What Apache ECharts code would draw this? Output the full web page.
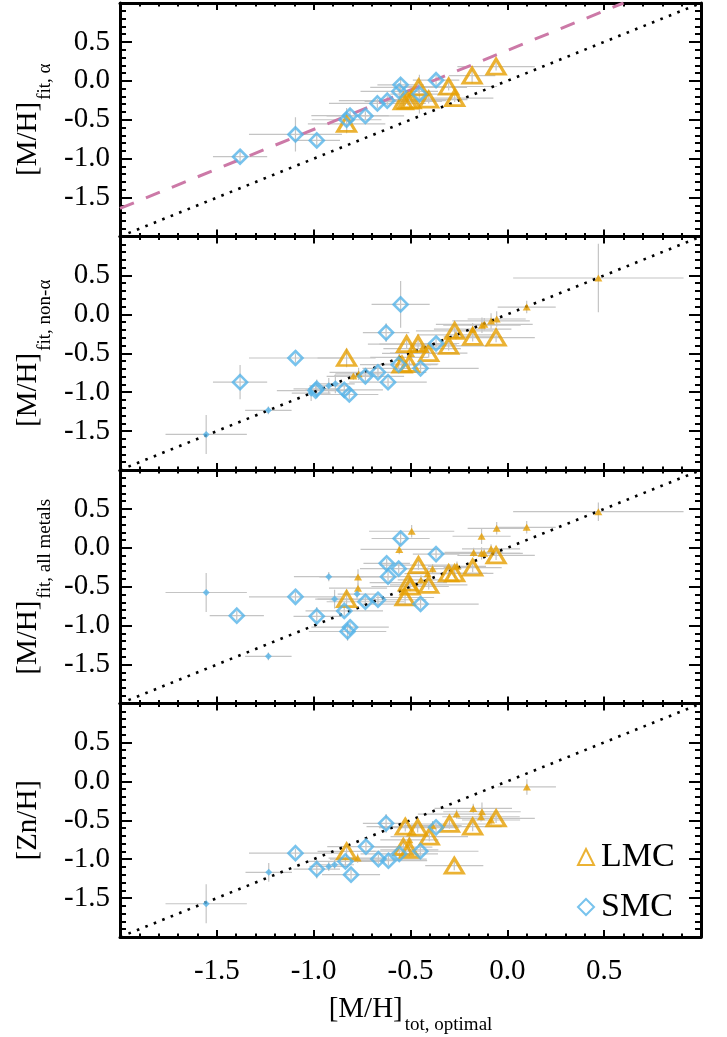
<!DOCTYPE html>
<html><head><meta charset="utf-8">
<script src="https://cdn.jsdelivr.net/npm/echarts@6/dist/echarts.min.js"></script>
<style>html,body{margin:0;padding:0;background:#fff}#c{width:727px;height:1037px}</style>
</head><body><div id="c"></div>
<script>
// ---------- tick labels, titles ----------
const xTickLabels = ['-1.5', '-1.0', '-0.5', '0.0', '0.5'];
const yTickLabels = ['-1.5', '-1.0', '-0.5', '0.0', '0.5'];
const axisMin = -2, axisMax = 1, tickStep = 0.5;
const yTitleMains = ['[M/H]', '[M/H]', '[M/H]', '[Zn/H]'];
const yTitleSubs = ['fit, α', 'fit, non-α', 'fit, all metals', ''];
const xTitleMain = '[M/H]', xTitleSub = 'tot, optimal';
const legendNames = ['LMC', 'SMC'];

// ---------- reference lines ----------
const oneToOne = [[-2, -2], [1, 1]];
const alphaFit = [[-2, -1.64], [0.6, 1.0]];

// ---------- data: [x, y, xerr, yerr] ----------
const p1_smc = [[-1.38,-0.975,0.14,0.08],[-1.094,-0.689,0.24,0.22],[-0.984,-0.765,0.12,0.07],[-0.83,-0.50,0.18,0.15],[-0.812,-0.446,0.2,0.08],[-0.733,-0.451,0.2,0.06],[-0.671,-0.290,0.25,0.06],[-0.620,-0.255,0.25,0.06],[-0.558,-0.136,0.2,0.08],[-0.551,-0.051,0.12,0.08],[-0.454,-0.171,0.15,0.25],[-0.368,0.008,0.12,0.06]];
const p1_lmc = [[-0.830,-0.553,0.2,0.12],[-0.537,-0.264,0.2,0.06],[-0.515,-0.255,0.2,0.06],[-0.497,-0.25,0.15,0.05],[-0.458,-0.085,0.25,0.07],[-0.406,-0.242,0.2,0.05],[-0.303,-0.073,0.25,0.05],[-0.272,-0.222,0.2,0.05],[-0.182,0.068,0.12,0.1],[-0.058,0.182,0.2,0.05]];
const p1_smcSmall = [];
const p1_lmcSmall = [];

const p2_smc = [[-1.380,-0.872,0.14,0.22],[-1.094,-0.561,0.24,0.06],[-0.984,-0.957,0.12,0.12],[-0.99,-0.98,0.2,0.06],[-0.842,-0.970,0.2,0.06],[-0.816,-1.03,0.15,0.06],[-0.733,-0.796,0.2,0.06],[-0.668,-0.745,0.25,0.06],[-0.616,-0.872,0.2,0.06],[-0.626,-0.234,0.12,0.12],[-0.551,0.127,0.15,0.3],[-0.561,-0.647,0.2,0.06],[-0.448,-0.694,0.3,0.06],[-0.368,-0.375,0.12,0.06]];
const p2_lmc = [[-0.830,-0.561,0.15,0.12],[-0.520,-0.383,0.2,0.06],[-0.461,-0.383,0.2,0.06],[-0.406,-0.498,0.2,0.06],[-0.544,-0.647,0.15,0.08],[-0.506,-0.638,0.15,0.08],[-0.303,-0.404,0.2,0.06],[-0.272,-0.213,0.2,0.06],[-0.179,-0.290,0.15,0.06],[-0.058,-0.298,0.2,0.06]];
const p2_smcSmall = [[-1.555,-1.543,0.21,0.25],[-1.234,-1.233,0.12,0.05],[-1.013,-1.013,0.1,0.1],[-0.922,-0.918,0.1,0.1],[-0.888,-0.893,0.1,0.12]];
const p2_lmcSmall = [[-0.795,-0.791,0.1,0.05],[-0.768,-0.765,0.12,0.08],[-0.558,-0.553,0.15,0.06],[-0.497,-0.502,0.15,0.06],[-0.44,-0.44,0.2,0.06],[-0.265,-0.264,0.2,0.06],[-0.179,-0.191,0.2,0.08],[-0.131,-0.140,0.2,0.1],[-0.119,-0.128,0.25,0.08],[-0.084,-0.085,0.2,0.1],[-0.055,-0.06,0.15,0.1],[0.100,0.093,0.15,0.08],[0.470,0.467,0.44,0.44]];

const p3_smc = [[-1.397,-0.871,0.14,0.06],[-1.094,-0.629,0.24,0.06],[-0.984,-0.880,0.12,0.12],[-0.842,-0.811,0.2,0.06],[-0.825,-1.075,0.2,0.12],[-0.812,-1.02,0.2,0.06],[-0.733,-0.693,0.2,0.06],[-0.668,-0.667,0.25,0.06],[-0.616,-0.370,0.2,0.06],[-0.623,-0.199,0.12,0.06],[-0.561,-0.268,0.2,0.06],[-0.551,0.120,0.15,0.08],[-0.448,-0.722,0.3,0.06],[-0.368,-0.080,0.12,0.06]];
const p3_lmc = [[-0.830,-0.658,0.15,0.12],[-0.511,-0.446,0.2,0.06],[-0.502,-0.497,0.2,0.06],[-0.528,-0.638,0.15,0.08],[-0.459,-0.221,0.2,0.06],[-0.406,-0.476,0.2,0.06],[-0.303,-0.327,0.2,0.06],[-0.272,-0.327,0.2,0.06],[-0.179,-0.255,0.15,0.06],[-0.058,-0.097,0.2,0.06]];
const p3_smcSmall = [[-1.555,-0.574,0.21,0.25],[-1.234,-1.394,0.12,0.05],[-0.922,-0.370,0.18,0.06],[-0.892,-0.658,0.1,0.12],[-0.776,-0.594,0.1,0.06]];
const p3_lmcSmall = [[-0.771,-0.374,0.2,0.1],[-0.771,-0.518,0.15,0.06],[-0.494,0.213,0.22,0.08],[-0.558,-0.021,0.2,0.06],[-0.446,-0.412,0.12,0.06],[-0.411,-0.332,0.12,0.08],[-0.386,-0.268,0.15,0.06],[-0.260,-0.237,0.15,0.06],[-0.174,-0.059,0.15,0.06],[-0.133,0.149,0.15,0.1],[-0.133,-0.071,0.2,0.08],[-0.12,-0.07,0.2,0.06],[-0.084,-0.013,0.15,0.06],[-0.055,0.251,0.15,0.08],[0.100,0.264,0.15,0.08],[0.470,0.464,0.44,0.12]];

const p4_smc = [[-1.094,-0.923,0.24,0.06],[-0.984,-1.127,0.12,0.12],[-0.836,-1.029,0.2,0.06],[-0.807,-1.199,0.15,0.06],[-0.730,-0.838,0.2,0.06],[-0.666,-0.999,0.25,0.06],[-0.614,-1.020,0.2,0.06],[-0.626,-0.540,0.12,0.12],[-0.558,-0.931,0.2,0.06],[-0.449,-0.898,0.3,0.06],[-0.368,-0.591,0.12,0.06]];
const p4_lmc = [[-0.830,-0.901,0.15,0.08],[-0.527,-0.583,0.2,0.06],[-0.463,-0.596,0.2,0.06],[-0.506,-0.880,0.15,0.08],[-0.537,-0.846,0.15,0.08],[-0.403,-0.710,0.2,0.06],[-0.299,-0.548,0.2,0.06],[-0.179,-0.582,0.15,0.06],[-0.058,-0.476,0.2,0.06],[-0.274,-1.084,0.15,0.06]];
const p4_smcSmall = [[-1.555,-1.573,0.21,0.25],[-1.232,-1.169,0.12,0.12],[-0.922,-1.093,0.1,0.06],[-0.892,-1.072,0.1,0.06]];
const p4_lmcSmall = [[0.101,-0.072,0.15,0.1],[-0.176,-0.348,0.2,0.06],[-0.262,-0.421,0.2,0.06],[-0.131,-0.391,0.2,0.12],[-0.136,-0.455,0.2,0.06],[-0.084,-0.497,0.15,0.06],[-0.386,-0.57,0.15,0.06],[-0.506,-0.752,0.15,0.06],[-0.773,-0.986,0.15,0.06]];

// ---------- build ----------
const panels = [
  {lmc: p1_lmc, smc: p1_smc, lmcS: p1_lmcSmall, smcS: p1_smcSmall, fit: alphaFit},
  {lmc: p2_lmc, smc: p2_smc, lmcS: p2_lmcSmall, smcS: p2_smcSmall, fit: null},
  {lmc: p3_lmc, smc: p3_smc, lmcS: p3_lmcSmall, smcS: p3_smcSmall, fit: null},
  {lmc: p4_lmc, smc: p4_smc, lmcS: p4_lmcSmall, smcS: p4_smcSmall, fit: null}
];
const ORANGE = '#E69F00', BLUE = '#56B4E9', PINK = '#CC79A7', GRAY = '#c4c4c4';
const FONT = '"Liberation Serif", "Times New Roman", serif';
const LEFT = 120, WIDTH = 581, H = 233.5;
const tops = [3, 3 + H, 3 + 2 * H, 3 + 3 * H];

const fmt = v => { const s = (Math.round(v * 10) / 10).toFixed(1); return s === '-0.0' ? '0.0' : s; };

const grids = [], xAxes = [], yAxes = [], series = [];
panels.forEach((p, i) => {
  grids.push({left: LEFT, width: WIDTH, top: tops[i], height: H});
  ['bottom', 'top'].forEach(pos => {
    xAxes.push({
      type: 'value', gridIndex: i, position: pos, min: axisMin, max: axisMax, interval: tickStep,
      axisLine: {show: true, onZero: false, lineStyle: {color: '#000', width: 3}},
      axisTick: {show: true, inside: true, length: 7, lineStyle: {color: '#000', width: 2}},
      minorTick: {show: true, splitNumber: 5, length: 3.5, lineStyle: {color: '#000', width: 2}},
      splitLine: {show: false}, minorSplitLine: {show: false},
      axisLabel: {
        show: (i === 3 && pos === 'bottom'), margin: 20, fontFamily: FONT, fontSize: 29, color: '#000',
        formatter: v => xTickLabels.includes(fmt(v)) ? fmt(v) : ''
      }
    });
  });
  ['left', 'right'].forEach(pos => {
    yAxes.push({
      type: 'value', gridIndex: i, position: pos, min: axisMin, max: axisMax, interval: tickStep,
      axisLine: {show: true, onZero: false, lineStyle: {color: '#000', width: 3}},
      axisTick: {show: true, inside: true, length: 12, lineStyle: {color: '#000', width: 2}},
      minorTick: {show: true, splitNumber: 5, length: 6, lineStyle: {color: '#000', width: 2}},
      splitLine: {show: false}, minorSplitLine: {show: false},
      axisLabel: {
        show: pos === 'left', margin: 10, fontFamily: FONT, fontSize: 29, color: '#000',
        formatter: v => yTickLabels.includes(fmt(v)) ? fmt(v) : ''
      }
    });
  });
  const xi = 2 * i, yi = 2 * i;
  // error bars
  series.push({
    type: 'custom', xAxisIndex: xi, yAxisIndex: yi, clip: true, silent: true, z: 1,
    data: [].concat(p.lmcS, p.smcS, p.lmc, p.smc),
    encode: {x: 0, y: 1},
    renderItem: (params, api) => {
      const x = api.value(0), y = api.value(1), xe = api.value(2), ye = api.value(3);
      const l = api.coord([x - xe, y]), r = api.coord([x + xe, y]);
      const t = api.coord([x, y + ye]), b = api.coord([x, y - ye]);
      const st = {stroke: GRAY, lineWidth: 1.2};
      return {type: 'group', children: [
        {type: 'line', shape: {x1: l[0], y1: l[1], x2: r[0], y2: r[1]}, style: st},
        {type: 'line', shape: {x1: t[0], y1: t[1], x2: b[0], y2: b[1]}, style: st}
      ]};
    }
  });
  series.push({
    type: 'line', xAxisIndex: xi, yAxisIndex: yi, data: oneToOne, showSymbol: false, silent: true, z: 2,
    lineStyle: {color: '#000', width: 2.6, type: [2.6, 6.5], cap: 'butt'}
  });
  if (p.fit) series.push({
    type: 'line', xAxisIndex: xi, yAxisIndex: yi, data: p.fit, showSymbol: false, silent: true, z: 2,
    lineStyle: {color: PINK, width: 3, type: [15, 13]}
  });
  series.push({
    name: 'LMC small', type: 'scatter', xAxisIndex: xi, yAxisIndex: yi, data: p.lmcS, z: 3,
    symbol: 'triangle', symbolSize: [8, 7], itemStyle: {color: ORANGE}
  });
  series.push({
    name: 'SMC small', type: 'scatter', xAxisIndex: xi, yAxisIndex: yi, data: p.smcS, z: 3,
    symbol: 'diamond', symbolSize: 7, itemStyle: {color: BLUE}
  });
  series.push({
    name: 'LMC', type: 'scatter', xAxisIndex: xi, yAxisIndex: yi, data: p.lmc, z: 4,
    symbol: 'triangle', symbolSize: [18, 15],
    itemStyle: {color: 'rgba(255,255,255,0)', borderColor: ORANGE, borderWidth: 3}
  });
  series.push({
    name: 'SMC', type: 'scatter', xAxisIndex: xi, yAxisIndex: yi, data: p.smc, z: 4,
    symbol: 'diamond', symbolSize: 14,
    itemStyle: {color: 'rgba(255,255,255,0)', borderColor: BLUE, borderWidth: 2.6}
  });
});

// titles
const cv = document.createElement('canvas').getContext('2d');
function tw(t, size) { cv.font = size + 'px ' + FONT; return cv.measureText(t).width; }
const MAIN = 29, SUB = 19;
const graphics = [];
yTitleMains.forEach((m, i) => {
  const s = yTitleSubs[i];
  const mw = tw(m, MAIN), sw = s ? tw(s, SUB) + 2 : 0;
  const total = mw + sw;
  const cy = tops[i] + H / 2;
  const children = [{type: 'text', x: 0, y: 28.5, style: {text: m, font: MAIN + 'px ' + FONT, fill: '#000', align: 'left', verticalAlign: 'middle'}}];
  if (s) children.push({type: 'text', x: mw + 2, y: 45, style: {text: s, font: SUB + 'px ' + FONT, fill: '#000', align: 'left', verticalAlign: 'middle'}});
  graphics.push({type: 'group', x: 0, y: cy + total / 2, rotation: Math.PI / 2, children});
});
{
  const mw = tw(xTitleMain, MAIN), sw = tw(xTitleSub, SUB) + 2;
  const x0 = LEFT + WIDTH / 2 - (mw + sw) / 2;
  graphics.push({type: 'text', x: x0, y: 1009, style: {text: xTitleMain, font: MAIN + 'px ' + FONT, fill: '#000', align: 'left', verticalAlign: 'middle'}});
  graphics.push({type: 'text', x: x0 + mw + 2, y: 1025, style: {text: xTitleSub, font: SUB + 'px ' + FONT, fill: '#000', align: 'left', verticalAlign: 'middle'}});
}

const chart = echarts.init(document.getElementById('c'), null, {renderer: 'canvas'});
chart.setOption({
  animation: false,
  backgroundColor: '#fff',
  grid: grids, xAxis: xAxes, yAxis: yAxes, series,
  legend: {
    data: legendNames, orient: 'vertical', left: 572, top: 835,
    itemWidth: 16, itemHeight: 16, itemGap: 16,
    textStyle: {fontFamily: FONT, fontSize: 34, color: '#000', lineHeight: 34, padding: [0, 0, 0, 2]}
  },
  graphic: graphics
});
</script></body></html>
